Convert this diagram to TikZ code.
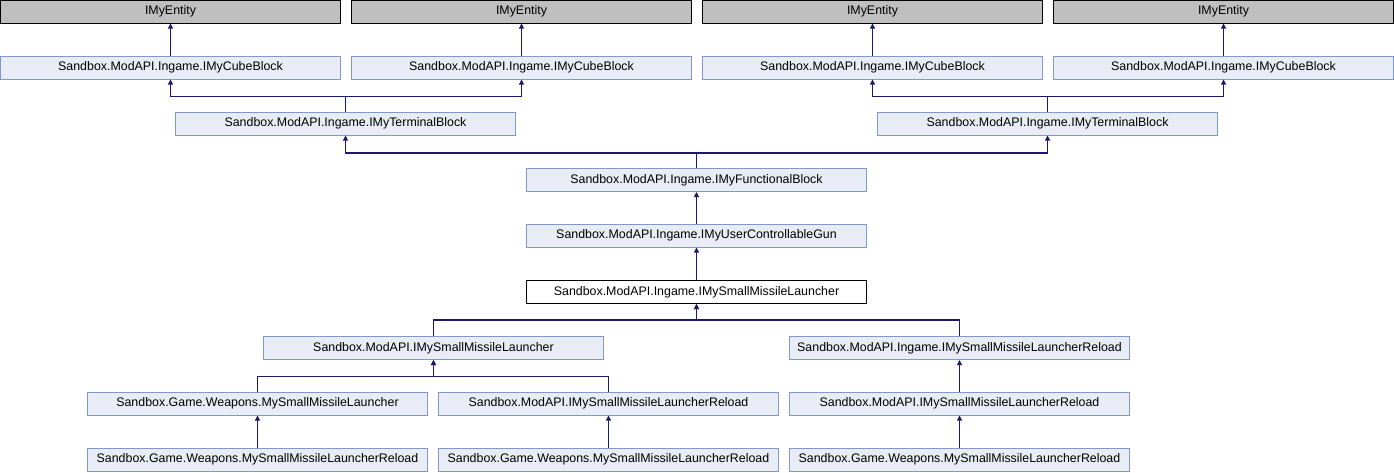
\documentclass[tikz,border=0pt]{standalone}
\usepackage{fontspec}
\setmainfont{Liberation Sans}
\usetikzlibrary{arrows.meta}
\definecolor{edgec}{HTML}{191970}
\definecolor{boxfill}{HTML}{E8ECF5}
\definecolor{boxdraw}{HTML}{8497CC}
\definecolor{topfill}{HTML}{BFBFBF}
\tikzset{
  cls/.style={draw=boxdraw, fill=boxfill, line width=1pt, minimum width=340pt, minimum height=23pt, inner sep=0pt, font=\fontsize{12.4pt}{14pt}\selectfont},
  ext/.style={cls, draw=black, fill=topfill},
  cur/.style={cls, draw=black, fill=white},
  arr/.style={draw=edgec, line width=1.1pt, -{Triangle[length=5pt,width=5pt]}}
}
\begin{document}
\begin{tikzpicture}[x=1pt,y=-1pt]
\useasboundingbox (0,0) rectangle (1394,472);
% row 1
\node[ext] (e1) at (170.5,11.5) {IMyEntity};
\node[ext] (e2) at (521.5,11.5) {IMyEntity};
\node[ext] (e3) at (872.5,11.5) {IMyEntity};
\node[ext] (e4) at (1223.5,11.5) {IMyEntity};
% row 2
\node[cls] (c1) at (170.5,67.5) {Sandbox.ModAPI.Ingame.IMyCubeBlock};
\node[cls] (c2) at (521.5,67.5) {Sandbox.ModAPI.Ingame.IMyCubeBlock};
\node[cls] (c3) at (872.5,67.5) {Sandbox.ModAPI.Ingame.IMyCubeBlock};
\node[cls] (c4) at (1223.5,67.5) {Sandbox.ModAPI.Ingame.IMyCubeBlock};
% row 3
\node[cls] (t1) at (345.5,123.5) {Sandbox.ModAPI.Ingame.IMyTerminalBlock};
\node[cls] (t2) at (1047.5,123.5) {Sandbox.ModAPI.Ingame.IMyTerminalBlock};
% rows 4-6
\node[cls] (fb) at (696.5,180) {Sandbox.ModAPI.Ingame.IMyFunctionalBlock};
\node[cls] (gun) at (696.5,235.5) {Sandbox.ModAPI.Ingame.IMyUserControllableGun};
\node[cur] (main) at (696.5,292) {Sandbox.ModAPI.Ingame.IMySmallMissileLauncher};
% row 7
\node[cls] (sml) at (433.5,348) {Sandbox.ModAPI.IMySmallMissileLauncher};
\node[cls] (igr) at (959.5,348) {Sandbox.ModAPI.Ingame.IMySmallMissileLauncherReload};
% row 8
\node[cls] (wml) at (257.5,403.5) {Sandbox.Game.Weapons.MySmallMissileLauncher};
\node[cls] (mr1) at (608.5,403.5) {Sandbox.ModAPI.IMySmallMissileLauncherReload};
\node[cls] (mr2) at (959.5,403.5) {Sandbox.ModAPI.IMySmallMissileLauncherReload};
% row 9
\node[cls] (w1) at (257.5,459.5) {Sandbox.Game.Weapons.MySmallMissileLauncherReload};
\node[cls] (w2) at (608.5,459.5) {Sandbox.Game.Weapons.MySmallMissileLauncherReload};
\node[cls] (w3) at (959.5,459.5) {Sandbox.Game.Weapons.MySmallMissileLauncherReload};
% edges
\draw[arr] (c1) -- (e1);
\draw[arr] (c2) -- (e2);
\draw[arr] (c3) -- (e3);
\draw[arr] (c4) -- (e4);
\draw[arr] (t1.north) -- ++(0,-15) -| (c1.south);
\draw[arr] (t1.north) -- ++(0,-15) -| (c2.south);
\draw[arr] (t2.north) -- ++(0,-15) -| (c3.south);
\draw[arr] (t2.north) -- ++(0,-15) -| (c4.south);
\draw[arr] (fb.north) -- ++(0,-15) -| (t1.south);
\draw[arr] (fb.north) -- ++(0,-15) -| (t2.south);
\draw[arr] (gun) -- (fb);
\draw[arr] (main) -- (gun);
\draw[arr] (sml.north) -- ++(0,-16) -| (main.south);
\draw[arr] (igr.north) -- ++(0,-16) -| (main.south);
\draw[arr] (wml.north) -- ++(0,-15) -| (sml.south);
\draw[arr] (mr1.north) -- ++(0,-15) -| (sml.south);
\draw[arr] (mr2) -- (igr);
\draw[arr] (w1) -- (wml);
\draw[arr] (w2) -- (mr1);
\draw[arr] (w3) -- (mr2);
\end{tikzpicture}
\end{document}
